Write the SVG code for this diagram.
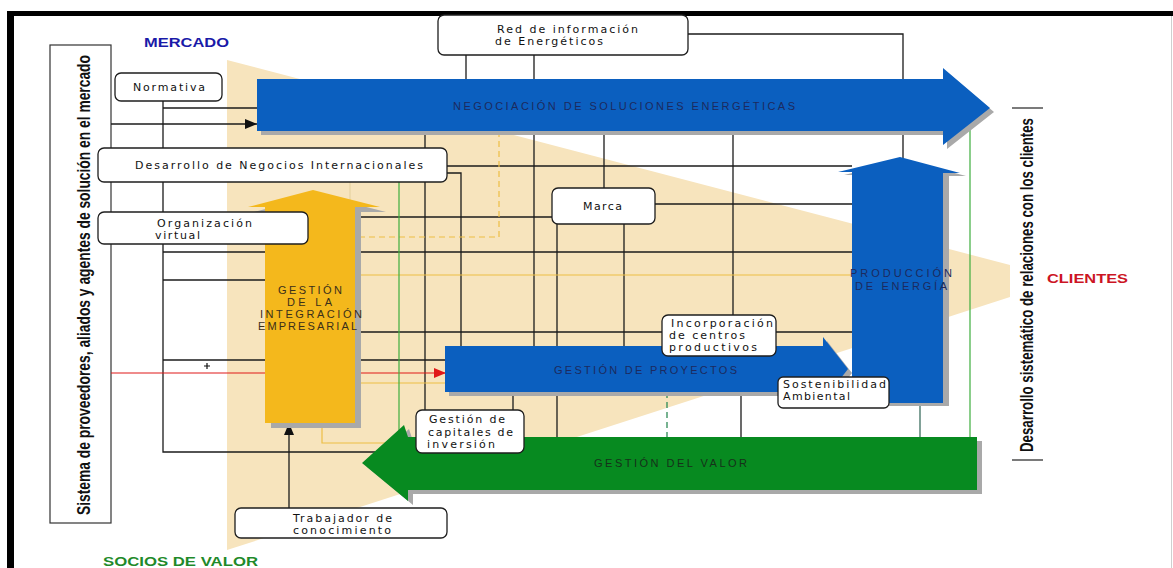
<svg xmlns="http://www.w3.org/2000/svg" width="1173" height="568" viewBox="0 0 1173 568">
  <style>
    .ln { stroke: #1b1b1b; stroke-width: 1.3; fill: none; }
    .gl { stroke: #EDBE45; stroke-width: 1.2; fill: none; }
    .gn { stroke: #3DAE3D; stroke-width: 1.2; fill: none; }
    .box { fill: #ffffff; stroke: #1e1e1e; stroke-width: 1.3; }
    .nt { font-family: "DejaVu Sans", Verdana, sans-serif; font-size: 11px; fill: #111; }
    .at { font-family: "Liberation Sans", Arial, sans-serif; font-size: 11px; fill: #1c2a5e; }
    .shadow { fill: #a9a9a9; }
    .vt { font-family: "Liberation Sans", Arial, sans-serif; font-weight: bold; fill: #111; }
  </style>
  <defs>
    <marker id="ahBlack" markerWidth="12" markerHeight="10" refX="12" refY="5" orient="auto" markerUnits="userSpaceOnUse">
      <path d="M0,0 L12,5 L0,10 Z" fill="#111"/>
    </marker>
    <marker id="ahRed" markerWidth="12" markerHeight="10" refX="12" refY="5" orient="auto" markerUnits="userSpaceOnUse">
      <path d="M0,0 L12,5 L0,10 Z" fill="#e01818"/>
    </marker>
  </defs>

  <!-- page background and frame -->
  <rect x="0" y="0" width="1173" height="568" fill="#ffffff"/>
  <rect x="7" y="11" width="1166" height="5" fill="#000"/>
  <rect x="7" y="11" width="7" height="557" fill="#000"/>
  <line x1="1171.5" y1="16" x2="1171.5" y2="568" stroke="#cfcfcf" stroke-width="1"/>

  <!-- market funnel -->
  <polygon points="227,60 1010,265 1010,297 227,550" fill="#F7E4BD"/>

  <!-- outer labels -->
  <text x="144" y="47" font-family="Liberation Sans, Arial, sans-serif" font-weight="bold" font-size="13.5" fill="#1a1aa8" textLength="85" lengthAdjust="spacingAndGlyphs">MERCADO</text>
  <text x="103" y="566" font-family="Liberation Sans, Arial, sans-serif" font-weight="bold" font-size="12.5" fill="#1f8a2a" textLength="155" lengthAdjust="spacingAndGlyphs">SOCIOS DE VALOR</text>
  <text x="1047" y="283" font-family="Liberation Sans, Arial, sans-serif" font-weight="bold" font-size="13" fill="#cc1424" textLength="81" lengthAdjust="spacingAndGlyphs">CLIENTES</text>

  <!-- suppliers column -->
  <g id="proveedores">
    <rect x="50" y="45" width="61" height="478" fill="#fff" stroke="#333" stroke-width="1.2"/>
    <text class="vt" font-size="19" transform="translate(90,515) rotate(-90)" textLength="460" lengthAdjust="spacingAndGlyphs">Sistema de proveedores, aliados y agentes de solución en el mercado</text>
  </g>

  <!-- customer relations label -->
  <g id="relaciones">
    <line x1="1012" y1="108" x2="1043" y2="108" stroke="#222" stroke-width="1.2"/>
    <line x1="1012" y1="460" x2="1043" y2="460" stroke="#222" stroke-width="1.2"/>
    <text class="vt" font-size="17.5" transform="translate(1033,452) rotate(-90)" textLength="334" lengthAdjust="spacingAndGlyphs">Desarrollo sistemático de relaciones con los clientes</text>
  </g>

  <!-- connectors -->
  <g id="connectors">
    <path class="ln" d="M163,101 V452 H378"/>
    <line class="ln" x1="163" y1="108" x2="257" y2="108"/>
    <line class="ln" x1="163" y1="252" x2="852" y2="252"/>
    <line class="ln" x1="163" y1="280" x2="266" y2="280"/>
    <line class="ln" x1="163" y1="360" x2="446" y2="360"/>
    <line class="ln" x1="320" y1="332" x2="852" y2="332"/>
    <line class="ln" x1="300" y1="217" x2="552" y2="217"/>
    <line class="ln" x1="447" y1="166" x2="852" y2="166"/>
    <path class="ln" d="M447,173 H461 V346"/>
    <line class="ln" x1="425" y1="131" x2="425" y2="410"/>
    <line class="ln" x1="466" y1="55" x2="466" y2="80"/>
    <line class="ln" x1="534" y1="55" x2="534" y2="346"/>
    <path class="ln" d="M688,34 H903 V158"/>
    <line class="ln" x1="604" y1="131" x2="604" y2="188"/>
    <line class="ln" x1="655" y1="204" x2="852" y2="204"/>
    <line class="ln" x1="624" y1="224" x2="624" y2="346"/>
    <line class="ln" x1="557" y1="224" x2="557" y2="437"/>
    <line class="ln" x1="733" y1="131" x2="733" y2="315"/>
    <line class="ln" x1="513" y1="392" x2="513" y2="410"/>
    <line class="ln" x1="741" y1="392" x2="741" y2="437"/>
    <line x1="920" y1="400" x2="920" y2="437" stroke="#3d6f60" stroke-width="1.3"/>
    <line class="ln" x1="111" y1="124" x2="257" y2="124" marker-end="url(#ahBlack)"/>
    <line class="ln" x1="289" y1="508" x2="289" y2="423" marker-end="url(#ahBlack)"/>
    <path d="M204,366 H210 M207,363 V369" stroke="#111" stroke-width="1.2"/>
    <line x1="111" y1="373" x2="446" y2="373" stroke="#e01818" stroke-width="1.2" marker-end="url(#ahRed)"/>
    <line class="gl" x1="355" y1="275" x2="852" y2="275"/>
    <line class="gl" x1="355" y1="383" x2="446" y2="383"/>
    <path class="gl" d="M322,423 V443 H392"/>
    <path class="gl" d="M499,131 V237 H355" stroke-dasharray="6,4"/>
    <line x1="350" y1="182" x2="350" y2="206" stroke="#e3cf9c" stroke-width="1"/>
    <line class="gn" x1="399" y1="182" x2="399" y2="431"/>
    <line class="gn" x1="970" y1="123" x2="970" y2="437"/>
    <line x1="667" y1="392" x2="667" y2="437" stroke="#2e8b57" stroke-width="1.3" stroke-dasharray="6,4"/>
  </g>

  <!-- Negociación de soluciones energéticas -->
  <g id="negociacion">
    <polygon class="shadow" transform="translate(4,4)" points="257,79 943,79 943,68 990,108 943,145 943,131 257,131"/>
    <polygon fill="#0B5FBF" points="257,79 943,79 943,68 990,108 943,145 943,131 257,131"/>
    <text class="at" x="453" y="110" textLength="342" lengthAdjust="spacing">NEGOCIACIÓN DE SOLUCIONES ENERGÉTICAS</text>
  </g>

  <!-- Gestión de proyectos -->
  <g id="proyectos">
    <polygon class="shadow" transform="translate(4,4)" points="445,346 823,346 823,337 848,369 823,401 823,392 445,392"/>
    <polygon fill="#0B5FBF" points="445,346 823,346 823,337 848,369 823,401 823,392 445,392"/>
    <text class="at" x="554" y="374" textLength="183" lengthAdjust="spacing">GESTIÓN DE PROYECTOS</text>
  </g>

  <!-- Producción de energía -->
  <g id="produccion">
    <polygon class="shadow" transform="translate(6,3)" points="852,403 852,172 838,172 900,157 960,173 943,173 943,403"/>
    <polygon fill="#0B5FBF" points="852,403 852,172 838,172 900,157 960,173 943,173 943,403"/>
    <text class="at" x="850" y="277" textLength="102" lengthAdjust="spacing">PRODUCCIÓN</text>
    <text class="at" x="855" y="290" textLength="92" lengthAdjust="spacing">DE ENERGÍA</text>
  </g>

  <!-- Gestión de la integración empresarial -->
  <g id="integracion">
    <polygon class="shadow" transform="translate(6,5)" points="265,423 265,207 248,207 313,190 380,207 355,207 355,423"/>
    <polygon fill="#F4B81C" points="265,423 265,207 248,207 313,190 380,207 355,207 355,423"/>
    <g class="at" style="fill:#3a2f1a">
      <text x="278" y="294" textLength="64" lengthAdjust="spacing">GESTIÓN</text>
      <text x="287" y="306" textLength="45" lengthAdjust="spacing">DE LA</text>
      <text x="260" y="318" textLength="102" lengthAdjust="spacing">INTEGRACIÓN</text>
      <text x="258" y="330" textLength="99" lengthAdjust="spacing">EMPRESARIAL</text>
    </g>
  </g>

  <!-- Gestión del valor -->
  <g id="valor">
    <polygon class="shadow" transform="translate(5,4)" points="977,437 408,437 404,425 362,463 408,501 408,490 977,490"/>
    <polygon fill="#078A20" points="977,437 408,437 404,425 362,463 408,501 408,490 977,490"/>
    <text class="at" x="594" y="467" textLength="153" lengthAdjust="spacing" style="fill:#16311a">GESTIÓN DEL VALOR</text>
  </g>

  <!-- nodes -->
  <g id="normativa">
    <rect class="box" x="115" y="73" width="107" height="28" rx="6"/>
    <text class="nt" x="133" y="91" textLength="72">Normativa</text>
  </g>
  <g id="red-informacion">
    <rect class="box" x="438" y="15" width="250" height="40" rx="6"/>
    <text class="nt" x="497" y="33" textLength="141">Red de información</text>
    <text class="nt" x="495" y="45" textLength="108">de Energéticos</text>
  </g>
  <g id="negocios-internacionales">
    <rect class="box" x="98" y="148" width="349" height="34" rx="6"/>
    <text class="nt" x="135" y="169" textLength="288">Desarrollo de Negocios Internacionales</text>
  </g>
  <g id="organizacion-virtual">
    <rect class="box" x="98" y="212" width="210" height="32" rx="6"/>
    <text class="nt" x="157" y="227" textLength="95">Organización</text>
    <text class="nt" x="155" y="239" textLength="45">virtual</text>
  </g>
  <g id="marca">
    <rect class="box" x="552" y="188" width="103" height="36" rx="6"/>
    <text class="nt" x="583" y="210" textLength="39">Marca</text>
  </g>
  <g id="incorporacion">
    <rect class="box" x="662" y="315" width="114" height="41" rx="6"/>
    <text class="nt" x="671" y="327" textLength="102">Incorporación</text>
    <text class="nt" x="669" y="339" textLength="76">de centros</text>
    <text class="nt" x="669" y="351" textLength="88">productivos</text>
  </g>
  <g id="sostenibilidad">
    <rect class="box" x="778" y="377" width="111" height="31" rx="5"/>
    <text class="nt" x="783" y="388" textLength="103">Sostenibilidad</text>
    <text class="nt" x="783" y="400" textLength="67">Ambiental</text>
  </g>
  <g id="capitales">
    <rect class="box" x="416" y="410" width="108" height="43" rx="6"/>
    <text class="nt" x="429" y="423" textLength="76">Gestión de</text>
    <text class="nt" x="428" y="436" textLength="85">capitales de</text>
    <text class="nt" x="427" y="448" textLength="68">inversión</text>
  </g>
  <g id="trabajador">
    <rect class="box" x="235" y="508" width="212" height="30" rx="6"/>
    <text class="nt" x="293" y="522" textLength="99">Trabajador de</text>
    <text class="nt" x="293" y="534" textLength="98">conocimiento</text>
  </g>
</svg>
